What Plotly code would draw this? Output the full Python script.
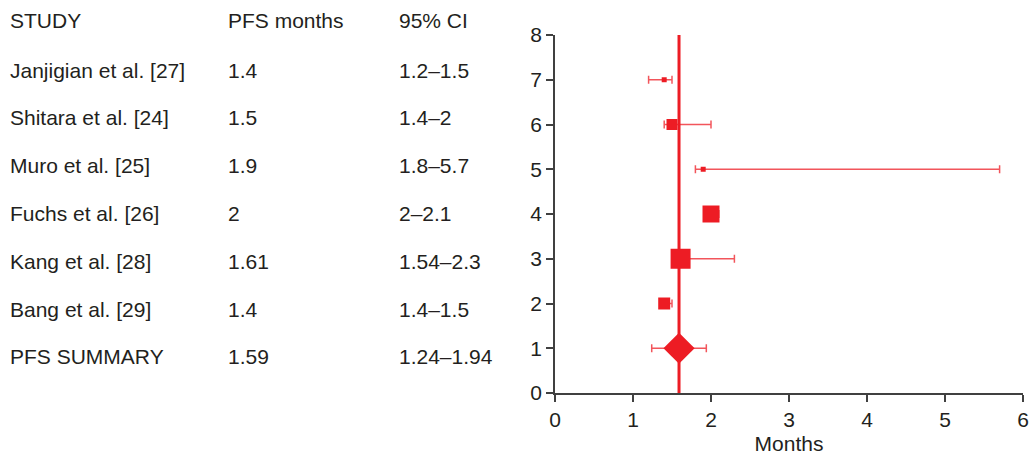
import plotly.graph_objects as go

# ---- data ----
studies = ["Janjigian et al. [27]", "Shitara et al. [24]", "Muro et al. [25]",
           "Fuchs et al. [26]", "Kang et al. [28]", "Bang et al. [29]", "PFS SUMMARY"]
pfs_labels = ["1.4", "1.5", "1.9", "2", "1.61", "1.4", "1.59"]
ci_labels = ["1.2\u20131.5", "1.4\u20132", "1.8\u20135.7", "2\u20132.1",
             "1.54\u20132.3", "1.4\u20131.5", "1.24\u20131.94"]
pfs = [1.4, 1.5, 1.9, 2.0, 1.61, 1.4, 1.59]
ci_low = [1.2, 1.4, 1.8, 2.0, 1.54, 1.4, 1.24]
ci_high = [1.5, 2.0, 5.7, 2.1, 2.3, 1.5, 1.94]
rows = [7, 6, 5, 4, 3, 2, 1]
weights = [5, 11, 5, 17, 20, 12]   # marker sizes (study weight)
headers = ["STUDY", "PFS months", "95% CI"]

RED = "#ED1C24"
ERR = "rgba(237,28,36,0.75)"
FONT = "Liberation Sans, Arial, sans-serif"
TXT = "#231F20"

fig = go.Figure()

n = len(studies) - 1
fig.add_trace(go.Scatter(x=[pfs[-1], pfs[-1]], y=[0, 8], mode="lines",
                         line=dict(color=RED, width=3), hoverinfo="skip",
                         showlegend=False, cliponaxis=False))

fig.add_trace(go.Scatter(
    x=pfs[:n], y=rows[:n], mode="markers",
    marker=dict(symbol="square", size=weights, color=RED, opacity=1, line=dict(width=0)),
    error_x=dict(type="data", symmetric=False,
                 array=[h - p for h, p in zip(ci_high[:n], pfs[:n])],
                 arrayminus=[p - l for p, l in zip(pfs[:n], ci_low[:n])],
                 color=ERR, thickness=1.5, width=4),
    showlegend=False, cliponaxis=False))

fig.add_trace(go.Scatter(
    x=[pfs[-1]], y=[rows[-1]], mode="markers",
    marker=dict(symbol="diamond", size=24, color=RED, opacity=1, line=dict(width=0)),
    error_x=dict(type="data", symmetric=False,
                 array=[ci_high[-1] - pfs[-1]], arrayminus=[pfs[-1] - ci_low[-1]],
                 color=ERR, thickness=1.5, width=4),
    showlegend=False, cliponaxis=False))

W, H = 1031, 458
ML, MR, MT, MB = 555, 8, 35, 65
pw, ph = W - ML - MR, H - MT - MB
col_px = [8, 226, 397]
header_py = 20
row0_py, row_step = 70, 47.8

def px2x(px):
    return (px - ML) / pw

def py2y(py):
    return (H - MB - py) / ph

ann = []
for c, h in zip(col_px, headers):
    ann.append(dict(x=px2x(c), y=py2y(header_py), text=h))
for i in range(len(studies)):
    py = row0_py + i * row_step
    for c, t in zip(col_px, [studies[i], pfs_labels[i], ci_labels[i]]):
        ann.append(dict(x=px2x(c), y=py2y(py), text=t))
for a in ann:
    a.update(xref="paper", yref="paper", xanchor="left", yanchor="middle",
             showarrow=False, font=dict(family=FONT, size=21, color=TXT))
fig.update_layout(annotations=ann)

axis_common = dict(showline=True, linecolor="#404040", linewidth=1.5,
                   ticks="outside", ticklen=7, tickwidth=1.5, tickcolor="#404040",
                   showgrid=False, zeroline=False, automargin=False,
                   tickfont=dict(family=FONT, size=21, color=TXT))
fig.update_xaxes(range=[0, 6], dtick=1, title=dict(text="Months", standoff=6,
                 font=dict(family=FONT, size=21, color=TXT)), **axis_common)
fig.update_yaxes(range=[0, 8], dtick=1, ticklabelstandoff=0, **axis_common)

fig.update_layout(width=W, height=H, margin=dict(l=ML, r=MR, t=MT, b=MB),
                  plot_bgcolor="white", paper_bgcolor="white")

fig.write_html("out.html")
